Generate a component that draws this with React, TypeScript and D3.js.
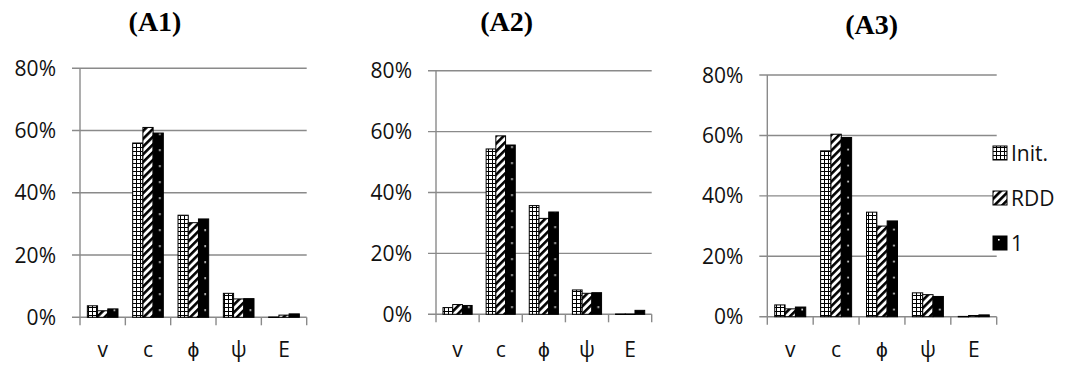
import React from "react";
import * as d3 from "d3";

const categories = ["v", "c", "ϕ", "ψ", "E"];
const seriesNames = ["Init.", "RDD", "1"];
const panelTitles = ["(A1)", "(A2)", "(A3)"];
const yTicks = [0, 20, 40, 60, 80];

const a1Init = [3.7, 56.0, 32.8, 7.7, 0.1];
const a1Rdd = [2.1, 61.0, 30.4, 5.9, 0.7];
const a1One = [2.7, 59.2, 31.6, 6.0, 1.1];

const a2Init = [2.2, 54.3, 35.7, 8.0, 0.1];
const a2Rdd = [3.2, 58.6, 31.5, 6.9, 0.1];
const a2One = [2.9, 55.6, 33.6, 7.1, 1.3];

const a3Init = [3.9, 54.9, 34.6, 7.9, 0.1];
const a3Rdd = [2.6, 60.4, 30.0, 7.3, 0.4];
const a3One = [3.2, 59.3, 31.7, 6.7, 0.6];

const panelData = [
  [a1Init, a1Rdd, a1One],
  [a2Init, a2Rdd, a2One],
  [a3Init, a3Rdd, a3One],
];

// layout (pixel frames of the three panels)
const layout = [
  { left: 80, right: 306.7, top: 68.3, bottom: 317.3, titleX: 155, titleY: 31 },
  { left: 436, right: 651.7, top: 70.7, bottom: 314.3, titleX: 506.7, titleY: 31 },
  { left: 767.3, right: 996.7, top: 75, bottom: 316.7, titleX: 871.7, titleY: 34 },
];

const GRID = "#8a8a8a";
const FONT = "'Open Sans', sans-serif";
const LABEL_BASELINE = 357;

function fillFor(s: number, id: string) {
  if (s === 0) return "url(#patInit)";
  if (s === 1) return "url(#patRdd)";
  return `url(#${id})`;
}

export default function App() {
  const dotPatterns: React.ReactNode[] = [];
  const panels = layout.map((L, p) => {
    const x = d3.scaleBand<string>().domain(categories).range([L.left, L.right]).padding(0);
    const xs = d3
      .scaleBand<string>()
      .domain(seriesNames)
      .range([0, x.bandwidth()])
      .paddingInner(0)
      .paddingOuter(0.72);
    const y = d3.scaleLinear().domain([0, 80]).range([L.bottom, L.top]);
    const boundaries = d3.range(categories.length + 1).map((i) => L.left + i * x.step());
    return (
      <g key={p}>
        <text
          x={L.titleX}
          y={L.titleY}
          textAnchor="middle"
          fontFamily="'Liberation Serif', 'Times New Roman', serif"
          fontWeight="bold"
          fontSize={28}
        >
          {panelTitles[p]}
        </text>
        {yTicks.map((t) => (
          <g key={t}>
            <line x1={L.left - 8} x2={L.right} y1={y(t)} y2={y(t)} stroke={GRID} strokeWidth={1.4} />
            <text
              x={L.left - 24}
              y={y(t)}
              dy="0.36em"
              textAnchor="end"
              fontFamily={FONT}
              fontSize={21}
              fill="#111"
            >
              {t}%
            </text>
          </g>
        ))}
        <line x1={L.left} x2={L.left} y1={L.top} y2={L.bottom + 8} stroke={GRID} strokeWidth={1.4} />
        {boundaries.slice(1).map((bx, i) => (
          <line key={i} x1={bx} x2={bx} y1={L.bottom} y2={L.bottom + 8} stroke={GRID} strokeWidth={1.4} />
        ))}
        {categories.map((c) => (
          <text
            key={c}
            x={(x(c) as number) + x.bandwidth() / 2}
            y={LABEL_BASELINE}
            textAnchor="middle"
            fontFamily={FONT}
            fontSize={21}
            fill="#111"
          >
            {c}
          </text>
        ))}
        {seriesNames.map((s, si) =>
          categories.map((c, ci) => {
            const v = panelData[p][si][ci];
            const bx = (x(c) as number) + (xs(s) as number);
            const bw = xs.bandwidth();
            const top = y(v);
            const h = L.bottom - top;
            const id = `dots-${p}-${ci}`;
            if (si === 2) {
              dotPatterns.push(
                <pattern key={id} id={id} patternUnits="userSpaceOnUse" x={bx} y={L.bottom} width={bw} height={16}>
                  <rect width={bw} height={16} fill="#000" />
                  <rect x={bw * 0.58} y={8} width={1.6} height={1.6} fill="#fff" />
                </pattern>
              );
            }
            return (
              <rect
                key={`${s}-${c}`}
                x={bx}
                y={top}
                width={bw}
                height={Math.max(h, 0.5)}
                fill={fillFor(si, id)}
                stroke="#000"
                strokeWidth={1}
              />
            );
          })
        )}
      </g>
    );
  });

  const legendX = 993;
  const legendY = [153, 198, 243];

  return (
    <svg
      width={1068}
      height={365}
      style={{ position: "absolute", left: 0, top: 0, background: "#fff" }}
    >
      <defs>
        <pattern id="patInit" patternUnits="userSpaceOnUse" width={4} height={4}>
          <rect width={4} height={4} fill="#fff" />
          <rect x={0} y={0} width={1} height={4} fill="#000" />
          <rect x={1} y={3} width={3} height={1} fill="#000" />
        </pattern>
        <pattern
          id="patRdd"
          patternUnits="userSpaceOnUse"
          width={5.5}
          height={5.5}
          patternTransform="rotate(45)"
        >
          <rect width={5.5} height={5.5} fill="#fff" />
          <rect x={0} y={0} width={2.6} height={5.5} fill="#000" />
        </pattern>
        <pattern id="dots-legend" patternUnits="userSpaceOnUse" x={legendX} y={legendY[2] - 7} width={14} height={14}>
          <rect width={14} height={14} fill="#000" />
          <rect x={5} y={3} width={1.6} height={1.6} fill="#fff" />
        </pattern>
      </defs>
      {panels}
      <defs>{dotPatterns}</defs>
      {seriesNames.map((s, i) => (
        <g key={s}>
          <rect
            x={legendX}
            y={legendY[i] - 7}
            width={14}
            height={14}
            fill={i === 2 ? "url(#dots-legend)" : fillFor(i, "")}
            stroke="#000"
            strokeWidth={1}
          />
          <text x={legendX + 18} y={legendY[i]} dy="0.36em" fontFamily={FONT} fontSize={21} fill="#111">
            {s}
          </text>
        </g>
      ))}
    </svg>
  );
}
